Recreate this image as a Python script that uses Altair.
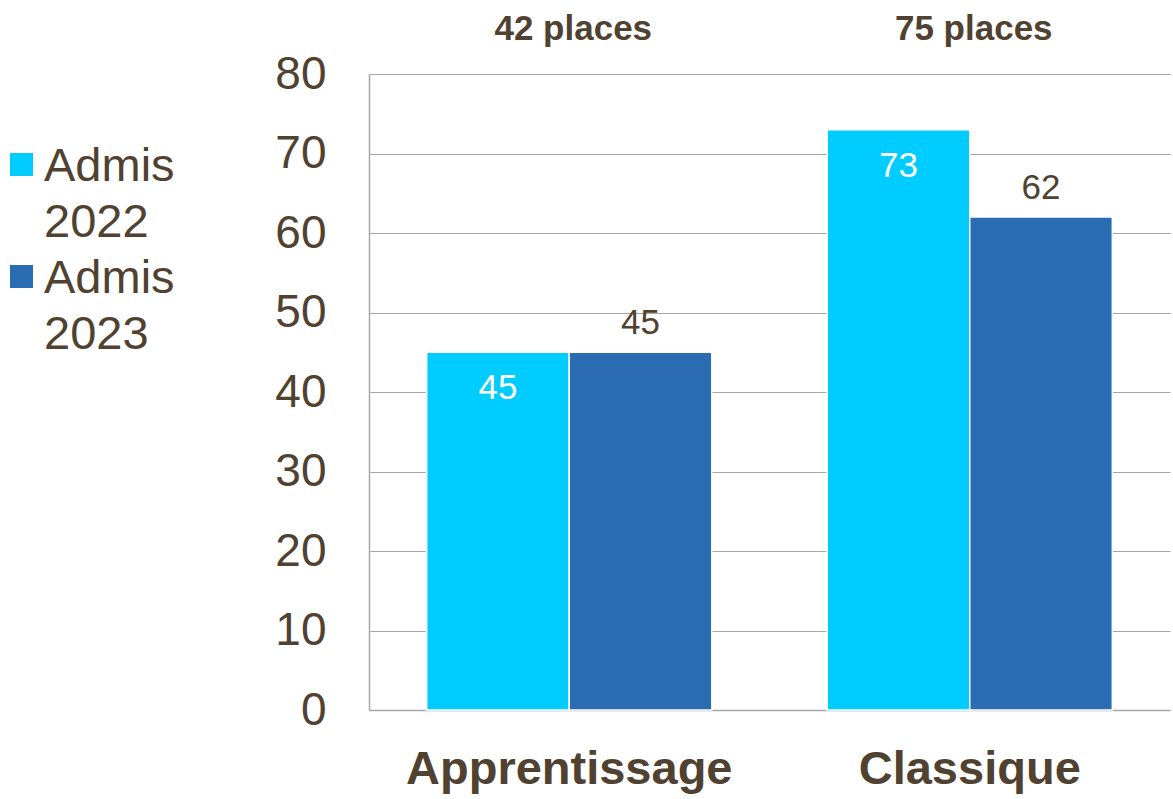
import altair as alt
import pandas as pd

categories = ["Apprentissage", "Classique"]
series = ["Admis 2022", "Admis 2023"]
admis_2022 = [45, 73]
admis_2023 = [45, 62]
places = ["42 places", "75 places"]
colors = ["#00CCFF", "#2A6CB2"]
y_ticks = [0, 10, 20, 30, 40, 50, 60, 70, 80]

TXT = "#504131"
FONT = "Liberation Sans"

rows = []
for i, c in enumerate(categories):
    rows.append({"cat": c, "serie": series[0], "val": admis_2022[i]})
    rows.append({"cat": c, "serie": series[1], "val": admis_2023[i]})
df = pd.DataFrame(rows)
df_places = pd.DataFrame({"cat": categories, "label": places})

xenc = alt.X("cat:N", sort=categories,
             scale=alt.Scale(paddingInner=0.288, paddingOuter=0.144),
             axis=alt.Axis(title=None, labelAngle=0, labelFontSize=47, labelFont=FONT,
                           labelFontWeight="bold", labelColor=TXT, ticks=False,
                           domainColor="#A6A6A6", domainWidth=1.5, labelPadding=73,
                           labelBaseline="alphabetic", labelLimit=0))
yenc = alt.Y("val:Q", scale=alt.Scale(domain=[0, 80], nice=False),
             axis=alt.Axis(title=None, values=y_ticks, labelFontSize=46, labelFont=FONT,
                           labelColor=TXT, ticks=False, domainColor="#A6A6A6",
                           domainWidth=1.5, gridColor="#A6A6A6", gridWidth=1.2,
                           labelPadding=43))
xoff = alt.XOffset("serie:N", sort=series, scale=alt.Scale(paddingInner=0, paddingOuter=0))

base = alt.Chart(df)

bars = base.mark_bar(stroke="white", strokeWidth=1.5).encode(
    x=xenc, xOffset=xoff, y=yenc,
    color=alt.Color("serie:N", sort=series,
                    scale=alt.Scale(domain=series, range=colors), legend=None),
)

lab22 = base.transform_filter(alt.datum.serie == series[0]).mark_text(
    baseline="top", dy=19, fontSize=35, font=FONT, color="white"
).encode(x=xenc, xOffset=xoff, y=yenc, text="val:Q")

lab23 = base.transform_filter(alt.datum.serie == series[1]).mark_text(
    baseline="bottom", dy=-11, fontSize=35, font=FONT, color=TXT
).encode(x=xenc, xOffset=xoff, y=yenc, text="val:Q")

top = alt.Chart(df_places).mark_text(
    fontSize=35, font=FONT, fontWeight="bold", color=TXT, baseline="alphabetic", dx=4
).encode(x=alt.X("cat:N", sort=categories), y=alt.value(-34), text="label:N")

# manual legend (two-line labels)
legend_layers = []
for i, s in enumerate(series):
    d = pd.DataFrame({"serie": [s]})
    yc = 90.5 + i * 112
    sq = alt.Chart(d).mark_square(size=530, color=colors[i], opacity=1).encode(
        x=alt.value(-347.5), y=alt.value(yc))
    tx = alt.Chart(d).mark_text(
        text=s.split(" "), fontSize=47, font=FONT, color=TXT, align="left",
        baseline="alphabetic", lineHeight=56
    ).encode(x=alt.value(-325), y=alt.value(yc + 16))
    legend_layers += [sq, tx]

chart = alt.layer(bars, lab22, lab23, top, *legend_layers).properties(
    width=801, height=636,
    padding={"left": 369, "top": 74, "right": 3, "bottom": 89},
    autosize=alt.AutoSizeParams(type="none"),
).configure_view(stroke=None)

chart.save("out.html", embed_options={"renderer": "svg", "actions": False})
